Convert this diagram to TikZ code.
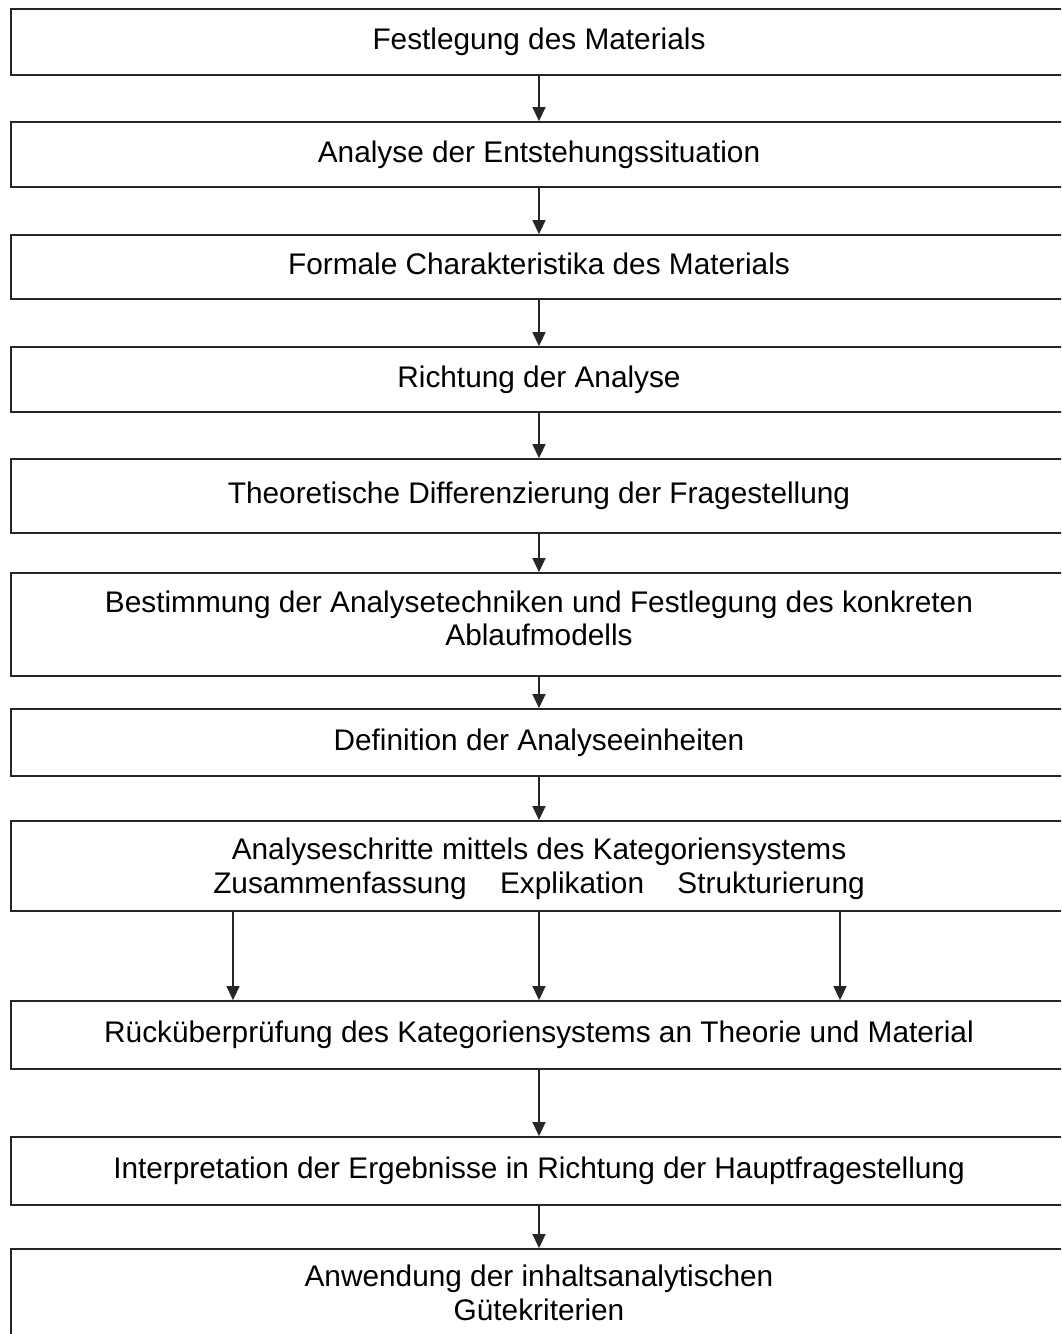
\documentclass[tikz,border=0pt]{standalone}
\usepackage{fontspec}
\setmainfont{Liberation Sans}
\usetikzlibrary{arrows.meta}
\tikzset{
  stepbox/.style={draw=black!85, line width=1.8pt, minimum width=1056pt, inner sep=0pt,
    align=center, text height=21pt, text depth=6pt,
    font=\fontsize{29.8}{33.5}\selectfont},
  twoline/.style={text height=54.5pt},
  arr/.style={draw=black!85, line width=1.5pt, -{Triangle[length=14pt,width=13pt]}}
}
\begin{document}
\begin{tikzpicture}[x=1pt,y=-1pt]
\useasboundingbox (0,0) rectangle (1061,1334);
\clip (0,0) rectangle (1061,1334);
\node[stepbox, minimum height=66pt] (b1) at (539,42) {Festlegung des Materials};
\node[stepbox, minimum height=65pt] (b2) at (539,154.5) {Analyse der Entstehungssituation};
\node[stepbox, minimum height=64pt] (b3) at (539,267) {Formale Charakteristika des Materials};
\node[stepbox, minimum height=65pt] (b4) at (539,379.5) {Richtung der Analyse};
\node[stepbox, minimum height=74pt] (b5) at (539,496) {Theoretische Differenzierung der Fragestellung};
\node[stepbox, twoline, text depth=12pt, minimum height=103pt] (b6) at (539,624.5) {Bestimmung der Analysetechniken und Festlegung des konkreten\\Ablaufmodells};
\node[stepbox, minimum height=67pt] (b7) at (539,742.5) {Definition der Analyseeinheiten};
\node[stepbox, twoline, text depth=0pt, minimum height=90pt] (b8) at (539,866) {Analyseschritte mittels des Kategoriensystems\\Zusammenfassung\hspace{1.12em}Explikation\hspace{1.12em}Strukturierung};
\node[stepbox, minimum height=68pt] (b9) at (539,1035) {Rücküberprüfung des Kategoriensystems an Theorie und Material};
\node[stepbox, minimum height=68pt] (b10) at (539,1171) {Interpretation der Ergebnisse in Richtung der Hauptfragestellung};
\node[stepbox, twoline, text depth=0pt, minimum height=88pt] (b11) at (539,1293) {Anwendung der inhaltsanalytischen\\Gütekriterien};
\draw[arr] (b1.south) -- (b2.north);
\draw[arr] (b2.south) -- (b3.north);
\draw[arr] (b3.south) -- (b4.north);
\draw[arr] (b4.south) -- (b5.north);
\draw[arr] (b5.south) -- (b6.north);
\draw[arr] (b6.south) -- (b7.north);
\draw[arr] (b7.south) -- (b8.north);
\draw[arr] (b8.south -| 233,0) -- (b9.north -| 233,0);
\draw[arr] (b8.south) -- (b9.north);
\draw[arr] (b8.south -| 840,0) -- (b9.north -| 840,0);
\draw[arr] (b9.south) -- (b10.north);
\draw[arr] (b10.south) -- (b11.north);
\end{tikzpicture}
\end{document}
